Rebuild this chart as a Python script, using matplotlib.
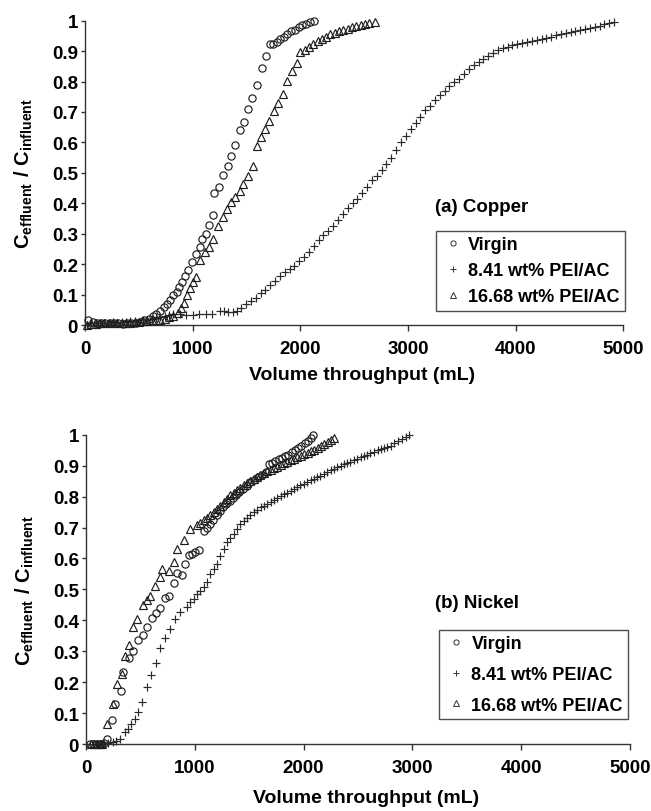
import matplotlib
matplotlib.use("Agg")
from matplotlib import pyplot as plt
from matplotlib.lines import Line2D

plt.rcParams["font.family"] = ["Liberation Sans", "DejaVu Sans"]
plt.rcParams["font.weight"] = "bold"
plt.rcParams["mathtext.fontset"] = "custom"
plt.rcParams["mathtext.rm"] = "Liberation Sans:bold"
plt.rcParams["mathtext.bf"] = "Liberation Sans:bold"
plt.rcParams["mathtext.it"] = "Liberation Sans:bold"

LABELS = ["Virgin", "8.41 wt% PEI/AC", "16.68 wt% PEI/AC"]
XTICKS = [0, 1000, 2000, 3000, 4000, 5000]
YTICKS = [0, 0.1, 0.2, 0.3, 0.4, 0.5, 0.6, 0.7, 0.8, 0.9, 1]

# ---- (a) Copper ----
cu_virgin_x = [30, 70, 110, 150, 190, 230, 270, 310, 350, 390, 430, 470, 510, 550, 590, 630,
               660, 700, 730, 760, 790, 820, 850, 875, 900, 925, 955, 995, 1035, 1065, 1085,
               1120, 1155, 1190, 1195, 1240, 1285, 1325, 1360, 1395, 1435, 1480, 1515, 1555,
               1595, 1640, 1680, 1720, 1750, 1780, 1815, 1850, 1880, 1915, 1950, 1985, 2020,
               2055, 2090, 2130]
cu_virgin_y = [0.016, 0.010, 0.008, 0.006, 0.006, 0.005, 0.006, 0.005, 0.004, 0.005, 0.006,
               0.008, 0.010, 0.015, 0.020, 0.028, 0.035, 0.045, 0.058, 0.068, 0.082, 0.097,
               0.110, 0.126, 0.142, 0.160, 0.182, 0.206, 0.232, 0.256, 0.283, 0.300, 0.330,
               0.362, 0.434, 0.452, 0.494, 0.521, 0.555, 0.590, 0.640, 0.668, 0.710, 0.745,
               0.790, 0.843, 0.883, 0.923, 0.925, 0.930, 0.940, 0.948, 0.955, 0.965, 0.970,
               0.978, 0.985, 0.990, 0.995, 0.998]

cu_pei8_x = [20, 60, 100, 140, 180, 220, 260, 300, 340, 380, 420, 460, 500, 540, 580, 620,
             660, 700, 740, 780, 820, 880, 940, 1000, 1060, 1120, 1180, 1250, 1290, 1330,
             1370, 1410, 1450, 1495, 1540, 1585, 1630, 1675, 1720, 1765, 1810, 1855, 1900,
             1945, 1990, 2035, 2080, 2125, 2170, 2215, 2260, 2305, 2350, 2395, 2440, 2485,
             2530, 2575, 2620, 2665, 2710, 2755, 2800, 2845, 2890, 2935, 2980, 3025, 3070,
             3115, 3160, 3205, 3250, 3295, 3340, 3385, 3430, 3475, 3520, 3565, 3610, 3655,
             3700, 3745, 3790, 3835, 3880, 3925, 3970, 4015, 4060, 4105, 4150, 4195, 4240,
             4285, 4330, 4375, 4420, 4465, 4510, 4555, 4600, 4645, 4690, 4735, 4780, 4825,
             4870, 4910]
cu_pei8_y = [0.000, 0.005, 0.005, 0.008, 0.006, 0.008, 0.010, 0.008, 0.010, 0.010, 0.012,
             0.012, 0.010, 0.015, 0.018, 0.020, 0.022, 0.025, 0.030, 0.033, 0.035, 0.035,
             0.034, 0.034, 0.035, 0.035, 0.036, 0.045, 0.046, 0.044, 0.043, 0.045, 0.055,
             0.068, 0.080, 0.090, 0.105, 0.115, 0.130, 0.145, 0.160, 0.175, 0.185, 0.195,
             0.210, 0.225, 0.240, 0.260, 0.280, 0.295, 0.310, 0.325, 0.345, 0.365, 0.385,
             0.400, 0.415, 0.435, 0.455, 0.475, 0.490, 0.510, 0.530, 0.550, 0.575, 0.600,
             0.620, 0.645, 0.665, 0.685, 0.705, 0.720, 0.740, 0.755, 0.770, 0.785, 0.800,
             0.810, 0.825, 0.840, 0.855, 0.865, 0.875, 0.885, 0.895, 0.905, 0.910, 0.915,
             0.920, 0.922, 0.926, 0.930, 0.933, 0.937, 0.940, 0.944, 0.948, 0.952, 0.955,
             0.958, 0.962, 0.965, 0.968, 0.972, 0.976, 0.980, 0.984, 0.988, 0.993, 0.997]

cu_pei16_x = [20, 60, 100, 140, 180, 220, 260, 300, 340, 380, 420, 460, 500, 540, 580, 620,
              660, 700, 740, 780, 820, 860, 890, 915, 945, 975, 1005, 1035, 1070, 1110, 1150,
              1190, 1235, 1280, 1315, 1355, 1395, 1435, 1470, 1515, 1560, 1595, 1630, 1670,
              1710, 1755, 1795, 1840, 1880, 1920, 1965, 2000, 2040, 2080, 2120, 2160, 2200,
              2240, 2280, 2320, 2360, 2400, 2440, 2480, 2520, 2560, 2600, 2640, 2690]
cu_pei16_y = [0.000, 0.002, 0.004, 0.005, 0.005, 0.006, 0.006, 0.005, 0.007, 0.008, 0.008,
              0.010, 0.010, 0.012, 0.013, 0.015, 0.016, 0.018, 0.020, 0.025, 0.030, 0.040,
              0.055, 0.072, 0.100, 0.120, 0.140, 0.157, 0.215, 0.240, 0.255, 0.283, 0.326,
              0.354, 0.381, 0.403, 0.422, 0.441, 0.463, 0.491, 0.524, 0.589, 0.619, 0.644,
              0.671, 0.702, 0.728, 0.759, 0.803, 0.836, 0.861, 0.896, 0.905, 0.915, 0.925,
              0.932, 0.940, 0.948, 0.955, 0.960, 0.965, 0.970, 0.974, 0.978, 0.982, 0.985,
              0.988, 0.991, 0.995]

# ---- (b) Nickel ----
ni_virgin_x = [40, 65, 90, 115, 140, 165, 195, 237, 267, 320, 344, 399, 436, 482, 522, 559,
               605, 645, 682, 728, 759, 805, 836, 882, 912, 950, 974, 1005, 1035, 1081, 1110,
               1140, 1170, 1200, 1230, 1260, 1290, 1320, 1350, 1380, 1410, 1445, 1480, 1511,
               1545, 1580, 1615, 1650, 1680, 1710, 1740, 1770, 1800, 1830, 1860, 1890, 1920,
               1950, 1980, 2010, 2040, 2065, 2085]
ni_virgin_y = [0.000, 0.000, 0.000, 0.000, 0.000, 0.003, 0.016, 0.078, 0.129, 0.173, 0.232,
               0.277, 0.302, 0.337, 0.353, 0.378, 0.407, 0.423, 0.439, 0.471, 0.480, 0.521,
               0.553, 0.545, 0.583, 0.610, 0.615, 0.622, 0.626, 0.690, 0.700, 0.710, 0.725,
               0.740, 0.752, 0.765, 0.775, 0.785, 0.795, 0.805, 0.815, 0.825, 0.835, 0.847,
               0.855, 0.862, 0.870, 0.878, 0.905, 0.910, 0.915, 0.920, 0.925, 0.930, 0.935,
               0.945, 0.950, 0.958, 0.965, 0.972, 0.980, 0.990, 0.998]

ni_pei8_x = [100, 150, 200, 252, 280, 313, 359, 385, 412, 450, 482, 519, 559, 599, 645, 682,
             728, 774, 820, 866, 928, 959, 989, 1020, 1050, 1081, 1112, 1143, 1175, 1204,
             1235, 1266, 1297, 1327, 1358, 1389, 1420, 1450, 1480, 1511, 1545, 1575, 1605,
             1635, 1665, 1696, 1725, 1755, 1790, 1820, 1850, 1880, 1910, 1940, 1970, 2000,
             2035, 2065, 2095, 2125, 2155, 2185, 2215, 2250, 2280, 2310, 2340, 2370, 2400,
             2430, 2464, 2495, 2525, 2555, 2585, 2615, 2648, 2680, 2710, 2740, 2770, 2802,
             2835, 2870, 2905, 2940, 2971]
ni_pei8_y = [0.000, 0.000, 0.003, 0.005, 0.010, 0.016, 0.038, 0.050, 0.065, 0.080, 0.103,
             0.135, 0.183, 0.224, 0.262, 0.310, 0.343, 0.372, 0.405, 0.426, 0.442, 0.460,
             0.469, 0.485, 0.495, 0.507, 0.523, 0.550, 0.566, 0.583, 0.609, 0.630, 0.653,
             0.665, 0.680, 0.696, 0.710, 0.720, 0.730, 0.739, 0.750, 0.757, 0.765, 0.770,
             0.777, 0.782, 0.790, 0.797, 0.803, 0.808, 0.812, 0.818, 0.825, 0.830, 0.836,
             0.842, 0.847, 0.852, 0.858, 0.863, 0.868, 0.873, 0.878, 0.885, 0.890, 0.895,
             0.900, 0.905, 0.909, 0.913, 0.917, 0.922, 0.927, 0.931, 0.935, 0.940, 0.944,
             0.949, 0.953, 0.957, 0.961, 0.965, 0.972, 0.980, 0.987, 0.994, 1.000]

ni_pei16_x = [50, 75, 100, 125, 150, 190, 245, 283, 329, 359, 399, 436, 473, 522, 559, 590,
              636, 682, 697, 760, 805, 840, 897, 959, 1020, 1050, 1081, 1112, 1143, 1174,
              1204, 1235, 1265, 1296, 1327, 1358, 1389, 1420, 1450, 1480, 1511, 1542, 1572,
              1603, 1634, 1665, 1696, 1727, 1758, 1789, 1820, 1851, 1882, 1913, 1944, 1975,
              2006, 2037, 2068, 2099, 2130, 2161, 2192, 2223, 2254, 2280]
ni_pei16_y = [0.000, 0.000, 0.000, 0.000, 0.000, 0.065, 0.128, 0.194, 0.227, 0.286, 0.320,
              0.378, 0.405, 0.448, 0.464, 0.480, 0.512, 0.539, 0.566, 0.560, 0.589, 0.631,
              0.658, 0.696, 0.707, 0.715, 0.723, 0.731, 0.739, 0.750, 0.760, 0.771, 0.782,
              0.793, 0.804, 0.812, 0.820, 0.828, 0.836, 0.843, 0.850, 0.858, 0.864, 0.870,
              0.877, 0.882, 0.887, 0.892, 0.897, 0.902, 0.907, 0.912, 0.917, 0.922, 0.927,
              0.932, 0.937, 0.942, 0.947, 0.952, 0.958, 0.964, 0.970, 0.976, 0.983, 0.991]

MK = dict(linestyle="none", markerfacecolor="none", clip_on=False, zorder=3)
STY = [dict(marker="o", ms=5.2, mec="#1e1e1e", mew=0.85),
       dict(marker="+", ms=6.2, mec="#2a2a2a", mew=0.85),
       dict(marker="^", ms=5.7, mec="#1e1e1e", mew=0.85)]


def draw_panel(ax, series, tag, txt_xy, leg_anchor, leg_space, xlab_y):
    for (x, y), st in zip(series, STY):
        ax.plot(x, y, **MK, **st)
    ax.set_xlim(0, 5000)
    ax.set_ylim(0, 1)
    ax.set_xticks(XTICKS)
    ax.set_yticks(YTICKS)
    ax.set_yticklabels([f"{t:g}" for t in YTICKS])
    for s in ("top", "right"):
        ax.spines[s].set_visible(False)
    for s in ("left", "bottom"):
        ax.spines[s].set_linewidth(1.0)
        ax.spines[s].set_color("#333333")
    ax.tick_params(axis="y", direction="out", length=3, width=1, pad=2,
                   labelsize=13.5, color="#333333")
    ax.tick_params(axis="x", direction="out", length=4, width=1, pad=7,
                   labelsize=13.5, color="#333333")
    ax.set_xlabel("Volume throughput (mL)", fontsize=14, fontweight="bold")
    ax.xaxis.set_label_coords(0.515, xlab_y)
    ax.set_ylabel(r"$\mathrm{C_{effluent}\ /\ C_{influent}}$", fontsize=14.5)
    ax.yaxis.set_label_coords(-0.092, 0.5)
    ax.text(txt_xy[0], txt_xy[1], tag, transform=ax.transAxes, fontsize=13.5,
            fontweight="bold", va="center", ha="left")
    # small hollow symbols in the legend, as in the original figure
    handles = [Line2D([], [], linestyle="none", markerfacecolor="none",
                      marker=st["marker"], ms=st["ms"] * 0.72, mec="#333333", mew=0.7)
               for st in STY]
    leg = ax.legend(handles, LABELS, loc="lower right", bbox_to_anchor=leg_anchor,
                    fontsize=13, frameon=True, fancybox=False, handlelength=1.3,
                    handletextpad=0.2, labelspacing=leg_space, borderpad=0.3,
                    borderaxespad=0)
    leg.get_frame().set_edgecolor("#222222")
    leg.get_frame().set_linewidth(1.0)


fig = plt.figure(figsize=(6.51, 8.12), dpi=100)
ax_a = fig.add_axes([0.1306, 0.5985, 0.8269, 0.3748])
ax_b = fig.add_axes([0.1321, 0.0825, 0.8356, 0.3809])

draw_panel(ax_a,
           [(cu_virgin_x, cu_virgin_y), (cu_pei8_x, cu_pei8_y), (cu_pei16_x, cu_pei16_y)],
           "(a) Copper", (0.650, 0.388), (1.003, 0.047), 0.5, -0.135)
draw_panel(ax_b,
           [(ni_virgin_x, ni_virgin_y), (ni_pei8_x, ni_pei8_y), (ni_pei16_x, ni_pei16_y)],
           "(b) Nickel", (0.6415, 0.459), (0.997, 0.081), 0.75, -0.145)

fig.savefig("out.png", dpi=100)
